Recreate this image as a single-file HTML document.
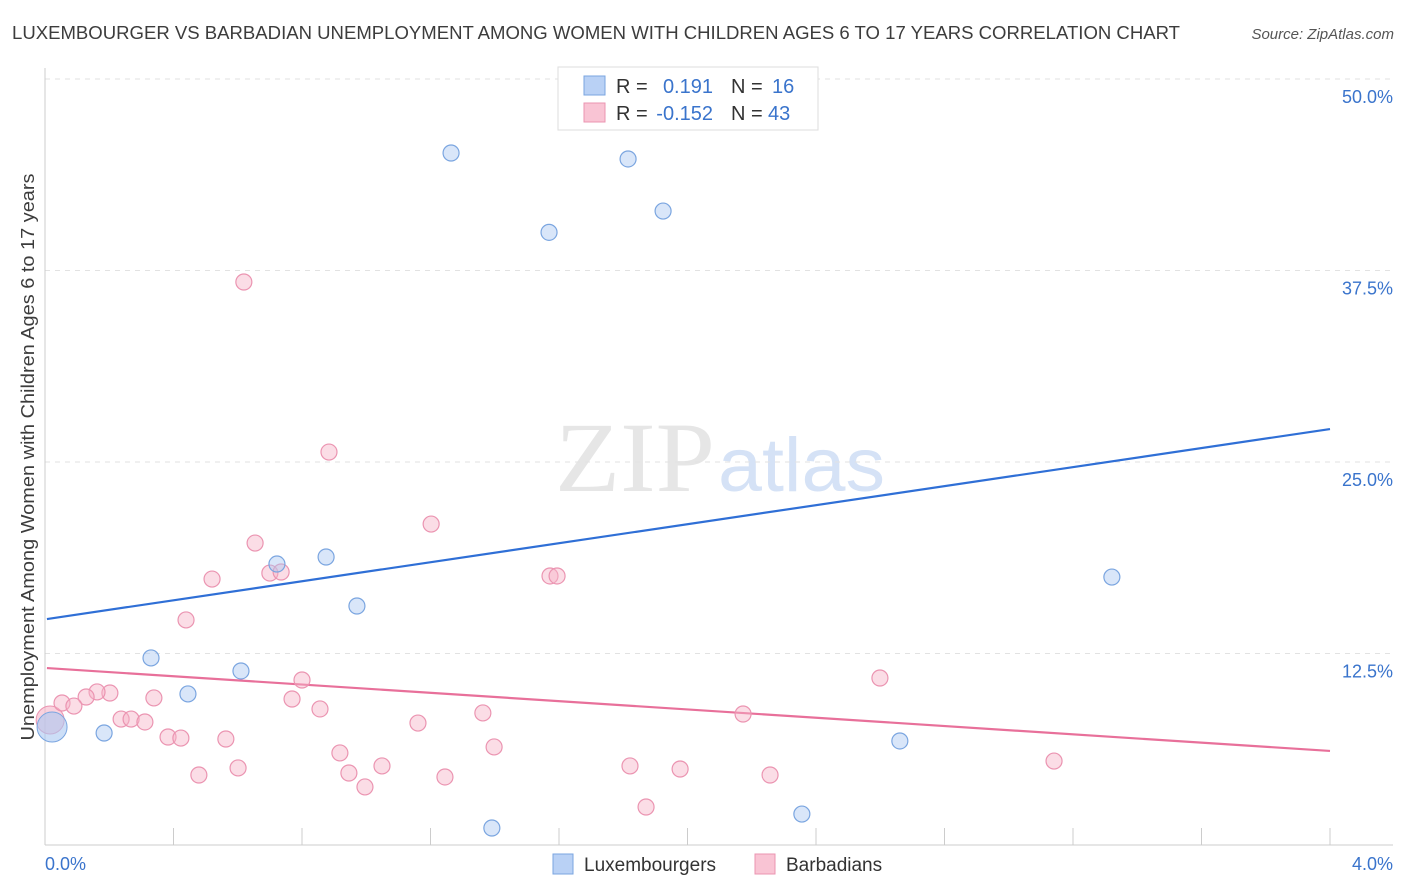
<!DOCTYPE html>
<html><head><meta charset="utf-8"><style>
body{margin:0;background:#fff;font-family:"Liberation Sans",sans-serif}
svg{display:block}
</style></head><body>
<svg id="chart" width="1406" height="892" xmlns="http://www.w3.org/2000/svg" font-family="Liberation Sans, sans-serif">
<text x="12" y="39" font-size="18" fill="#3c3c3c" textLength="1168" lengthAdjust="spacingAndGlyphs">LUXEMBOURGER VS BARBADIAN UNEMPLOYMENT AMONG WOMEN WITH CHILDREN AGES 6 TO 17 YEARS CORRELATION CHART</text>
<text x="1394" y="39" font-size="15" fill="#555" text-anchor="end" font-style="italic">Source: ZipAtlas.com</text>
<g>
<text x="555" y="491" font-size="100" fill="#e6e6e6" font-family="Liberation Serif, serif" textLength="160" lengthAdjust="spacingAndGlyphs">ZIP</text>
<text x="718" y="491" font-size="76" fill="#d5e2f6" textLength="167" lengthAdjust="spacingAndGlyphs">atlas</text>
</g>
<text transform="translate(34,457) rotate(-90)" font-size="18" fill="#3c3c3c" text-anchor="middle" textLength="567" lengthAdjust="spacingAndGlyphs">Unemployment Among Women with Children Ages 6 to 17 years</text>
<g id="grid"></g><g id="ticks"></g><g id="trends"></g><g id="points"></g>
<g>
<rect x="558" y="67" width="260" height="63" fill="#fff" stroke="#ddd"/>
<rect x="584" y="76" width="21" height="19" fill="#b9d1f5" stroke="#7aa5e0"/>
<rect x="584" y="103" width="21" height="19" fill="#f9c4d4" stroke="#eb94b1"/>
<text x="616" y="93" font-size="20" fill="#333">R =</text><text x="713" y="93" font-size="20" fill="#3a74cc" text-anchor="end">0.191</text>
<text x="731" y="93" font-size="20" fill="#333">N =</text><text x="772" y="93" font-size="20" fill="#3a74cc">16</text>
<text x="616" y="120" font-size="20" fill="#333">R =</text><text x="713" y="120" font-size="20" fill="#3a74cc" text-anchor="end">-0.152</text>
<text x="731" y="120" font-size="20" fill="#333">N =</text><text x="768" y="120" font-size="20" fill="#3a74cc">43</text>
</g>
<g>
<rect x="553" y="854" width="20" height="20" fill="#b9d1f5" stroke="#7aa5e0"/>
<text x="584" y="871" font-size="19" fill="#333">Luxembourgers</text>
<rect x="755" y="854" width="20" height="20" fill="#f9c4d4" stroke="#eb94b1"/>
<text x="786" y="871" font-size="19" fill="#333">Barbadians</text>
</g>
</svg>
<script>
const blueX=[1.264,1.815,1.924,1.569,0.722,0.875,0.971,0.330,0.610,0.445,0.184,2.661,3.321,2.356,1.391];
const blueY=[45.17,44.78,41.38,39.99,18.34,18.80,15.60,12.21,11.36,9.86,7.31,6.79,17.49,2.02,1.11];
const pinkX=[0.619,0.884,1.202,0.654,0.520,0.700,0.735,1.572,1.594,0.439,2.599,0.800,0.769,0.339,0.202,0.162,0.128,0.053,0.090,0.856,1.363,2.173,1.161,0.237,0.268,0.311,0.383,0.423,0.563,0.918,1.398,3.141,1.049,1.821,0.601,0.946,1.977,0.479,1.245,2.257,0.996,1.871];
const pinkY=[36.75,25.65,20.95,19.71,17.36,17.75,17.82,17.56,17.56,14.69,10.90,10.77,9.53,9.60,9.92,9.99,9.66,9.27,9.07,8.88,8.62,8.55,7.96,8.22,8.22,8.03,7.05,6.98,6.92,6.01,6.40,5.48,5.16,5.16,5.03,4.70,4.96,4.57,4.44,4.57,3.79,2.48];
const bigBlue=[0.022,7.70];
const bigPink=[0.016,8.16];
const blueTrend=[14.75,27.15];
const pinkTrend=[11.55,6.14];
const yTicks=[12.5,25,37.5,50];
const yTickLabels=["12.5%","25.0%","37.5%","50.0%"];
const xTickLabels=["0.0%","4.0%"];
const NS="http://www.w3.org/2000/svg";
const X=v=>45+v*321.25, Y=v=>845-v*15.32;
function mk(t,a,p){const e=document.createElementNS(NS,t);for(const k in a)e.setAttribute(k,a[k]);document.getElementById(p).appendChild(e);return e;}
yTicks.forEach((t,i)=>{
 const g=mk('line',{x1:45,x2:1393,y1:Y(t),y2:Y(t),stroke:'#e2e2e2','stroke-dasharray':'5,5'},'grid');
 
 
 const l=mk('text',{x:1393,y:Y(t)+24,'font-size':18,fill:'#3a74cc','text-anchor':'end'},'grid');
 l.textContent=yTickLabels[i];
 
 
});
let a=mk('line',{x1:45,x2:45,y1:68,y2:845,stroke:'#ccc'},'ticks');


a=mk('line',{x1:45,x2:1393,y1:845,y2:845,stroke:'#ccc'},'ticks');


for(let i=0;i<=10;i++){const t=mk('line',{x1:X(i*0.4),x2:X(i*0.4),y1:828,y2:845,stroke:'#ccc'},'ticks');
 
 }
[[0,'start',45],[4,'end',1393]].forEach((d,i)=>{const t=mk('text',{x:d[2],y:870,'font-size':18,fill:'#3a74cc','text-anchor':d[1]},'ticks');t.textContent=xTickLabels[i];
 
 });
let tl=mk('line',{x1:X(0.006),x2:X(4),y1:Y(blueTrend[0]),y2:Y(blueTrend[1]),stroke:'#2f6fd6','stroke-width':2.2},'trends');


tl=mk('line',{x1:X(0.006),x2:X(4),y1:Y(pinkTrend[0]),y2:Y(pinkTrend[1]),stroke:'#e8709a','stroke-width':2.2},'trends');


const pc=mk('circle',{cx:X(bigPink[0]),cy:Y(bigPink[1]),r:14,fill:'rgba(247,180,200,0.6)',stroke:'#eb94b1'},'points');


const bc=mk('circle',{cx:X(bigBlue[0]),cy:Y(bigBlue[1]),r:15,fill:'rgba(170,200,242,0.6)',stroke:'#7aa5e0'},'points');


pinkX.forEach((x,i)=>{const c=mk('circle',{cx:X(x),cy:Y(pinkY[i]),r:8,fill:'rgba(247,180,200,0.45)',stroke:'#eb94b1','stroke-width':1.2},'points');
 
 });
blueX.forEach((x,i)=>{const c=mk('circle',{cx:X(x),cy:Y(blueY[i]),r:8,fill:'rgba(170,200,242,0.45)',stroke:'#7aa5e0','stroke-width':1.2},'points');
 
 });
</script>
</body></html>
